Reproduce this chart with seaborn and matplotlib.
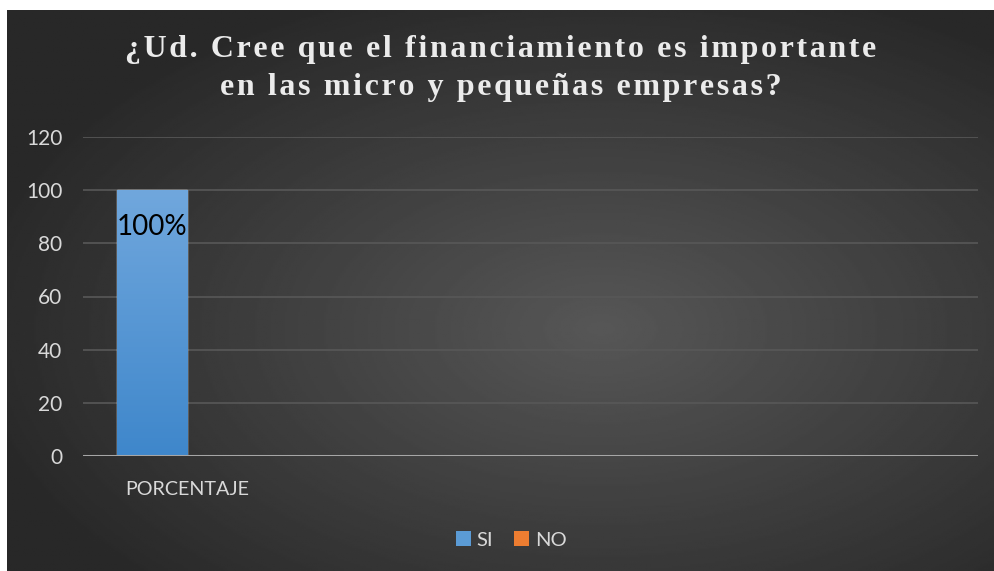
import numpy as np
import pandas as pd
import seaborn as sns
import matplotlib.pyplot as plt
from matplotlib.patches import Patch

categories = ["PORCENTAJE"]
respuestas = ["SI", "NO"]
valores = [100, 0]
etiquetas = ["100%", ""]
title_lines = ["¿Ud. Cree que el financiamiento es importante",
               "en las micro y pequeñas empresas?"]
colores = ["#5b9bd5", "#ed7d31"]

df = pd.DataFrame({"categoria": categories * len(respuestas),
                   "respuesta": respuestas,
                   "valor": valores})

sns.set_theme(style="dark")
plt.rcParams["font.family"] = ["Lato", "DejaVu Sans"]

W, H = 995, 571
fig = plt.figure(figsize=(W / 100, H / 100), dpi=100)
fig.patch.set_facecolor("white")

# background with radial gradient
bg = fig.add_axes([7 / W, 0, 1 - 7 / W, 1 - 10 / H])
bg.set_axis_off()
yy, xx = np.mgrid[0:300, 0:500]
cx, cy = 300, 170
r = np.sqrt(((xx - cx) / 500) ** 2 + ((yy - cy) / 300) ** 2)
shade = 0.34 - 0.28 * r
shade = np.clip(shade, 0.16, 0.34)
bg.imshow(shade, cmap="gray", vmin=0, vmax=1, aspect="auto",
          extent=[0, 1, 0, 1], origin="upper")
bg.set_xlim(0, 1)
bg.set_ylim(0, 1)

ax = fig.add_axes([83 / W, 1 - 456 / H, (978 - 83) / W, (456 - 137) / H])
ax.patch.set_alpha(0)
sns.barplot(data=df, x="categoria", y="valor", hue="respuesta",
            palette=colores, hue_order=respuestas, ax=ax, legend=False,
            saturation=1, width=0.8)

ax.set_xlim(-0.594, 4.52)
ax.set_ylim(0, 120)
ax.set_yticks(range(0, 121, 20))
ax.grid(axis="y", color="#585858", linewidth=1.2)
ax.grid(axis="x", visible=False)
ax.set_axisbelow(True)
for s in ax.spines.values():
    s.set_visible(False)
ax.axhline(0, color="#a6a6a6", linewidth=2.2, zorder=3)
ax.set_xlabel("")
ax.set_ylabel("")
ax.tick_params(axis="y", colors="#d9d9d9", labelsize=15, length=0, pad=15)
ax.tick_params(axis="x", colors="#d9d9d9", labelsize=14.2, length=0, pad=18)

# gradient fill on bars
grad = np.linspace(0, 1, 100).reshape(-1, 1)
for bar, col in zip(ax.patches, colores):
    if bar.get_height() <= 0:
        continue
    x0, w, h = bar.get_x(), bar.get_width(), bar.get_height()
    cmap = sns.blend_palette(["#3f87cb", "#70a7dd"], as_cmap=True)
    im = ax.imshow(grad, cmap=cmap, aspect="auto", origin="lower",
                   extent=[x0, x0 + w, 0, h], zorder=2)
    im.set_clip_path(bar)
    ax.text(x0 + w / 2, h - 14, etiquetas[respuestas.index("SI")],
            ha="center", va="center", fontsize=20, color="black", zorder=4)

# title with letter spacing
hs = "\u200a"
for i, line in enumerate(title_lines):
    spaced = hs.join(line)
    fig.text(0.503, 1 - (50 + 37 * i) / H, spaced, ha="center", va="center",
             fontsize=23, fontweight="bold", color="#ebebeb",
             family=["Liberation Serif", "DejaVu Serif"])

handles = [Patch(facecolor=c, edgecolor="none") for c in colores]
fig.legend(handles, respuestas, loc="center", bbox_to_anchor=(511 / W, 1 - 540 / H),
           ncol=2, frameon=False, fontsize=14.5, labelcolor="#d9d9d9",
           handlelength=0.75, handleheight=0.75, handletextpad=0.3, columnspacing=1.0)

fig.savefig("out.png", dpi=100, facecolor=fig.get_facecolor())
